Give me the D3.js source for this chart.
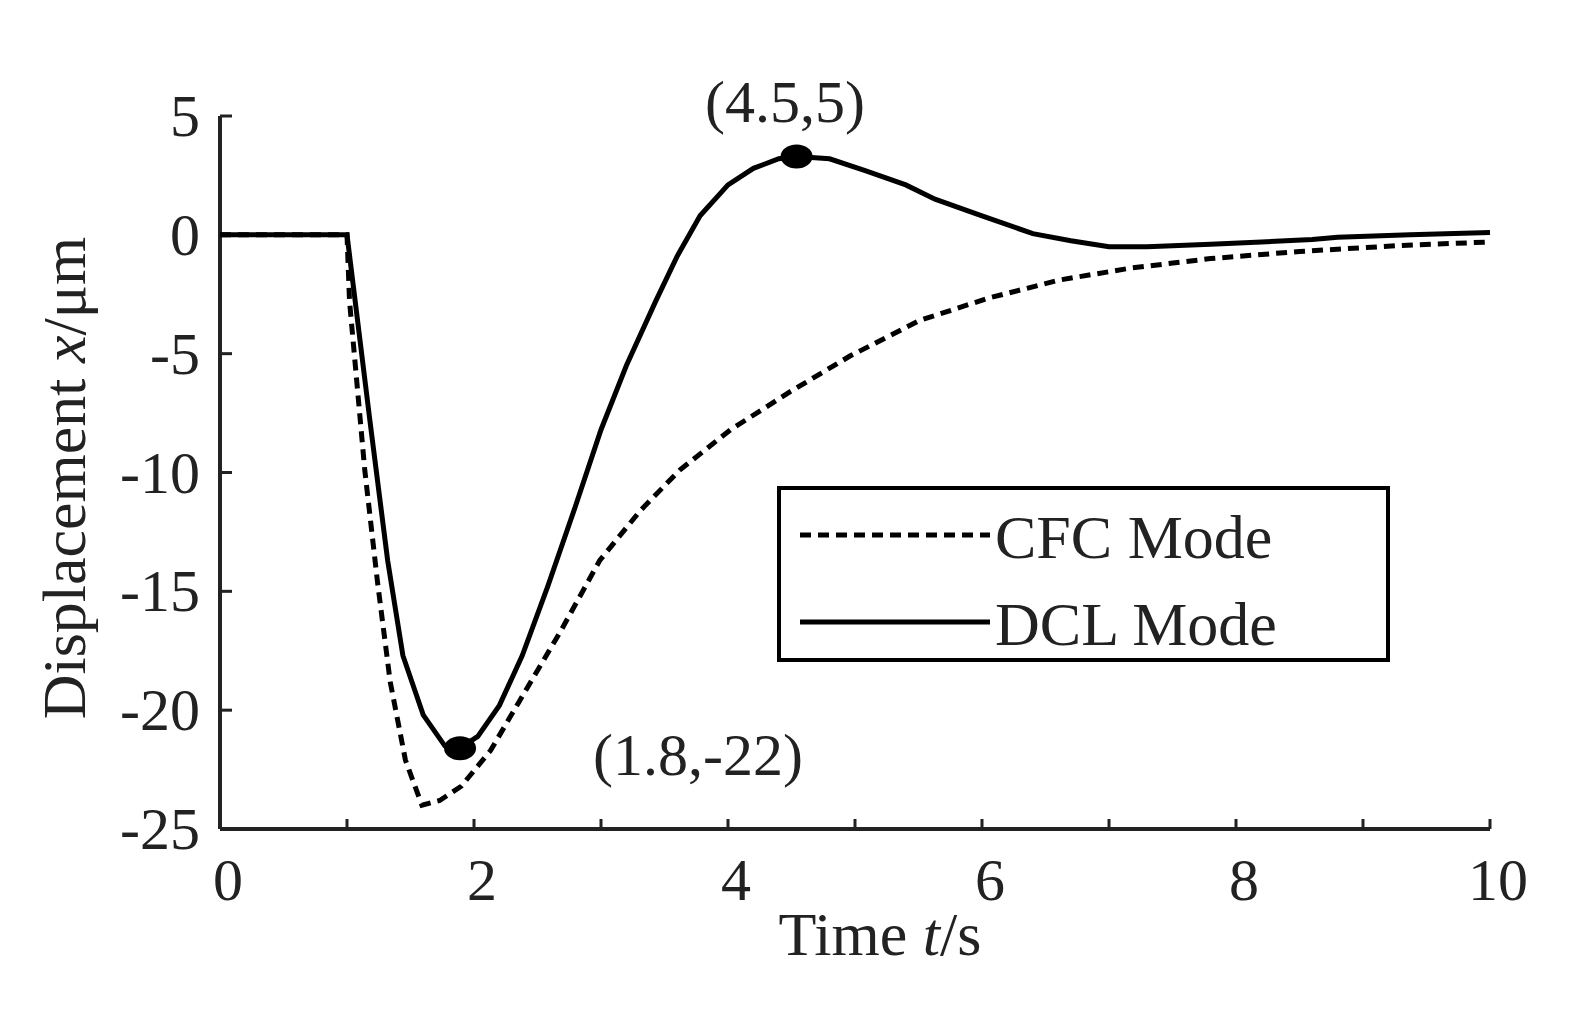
<!DOCTYPE html><html><head><script src="https://cdn.jsdelivr.net/npm/d3@7"></script>
<style>body{margin:0;background:#fff}text{font-family:"Liberation Serif",serif;fill:#222}</style></head><body>
<svg id="c" width="1576" height="1024"></svg>
<script>
const dclT=[0,1,1.18,1.32,1.44,1.6,1.77,1.89,2.03,2.2,2.38,2.58,2.8,3.0,3.2,3.43,3.6,3.78,4.0,4.2,4.4,4.54,4.8,5.08,5.4,5.63,6.0,6.4,6.7,7.0,7.3,7.8,8.2,8.6,8.8,9.37,10];
const dclV=[0,0,-7.8,-13.7,-17.7,-20.2,-21.5,-21.6,-21.1,-19.8,-17.7,-14.8,-11.4,-8.2,-5.5,-2.8,-0.9,0.8,2.1,2.8,3.2,3.3,3.2,2.7,2.1,1.5,0.8,0.05,-0.25,-0.5,-0.5,-0.4,-0.3,-0.2,-0.1,0,0.1];
const cfcT=[0,1,1.02,1.14,1.24,1.34,1.46,1.59,1.73,1.9,2.13,2.36,2.68,2.99,3.31,3.62,4.02,4.49,4.96,5.51,6.06,6.61,7.17,7.8,8.5,9.29,10];
const cfcV=[0,0,-2.8,-9.9,-14.6,-18.8,-22.1,-24,-23.8,-23.2,-21.7,-19.6,-16.7,-13.7,-11.6,-9.9,-8.2,-6.6,-5.1,-3.6,-2.65,-1.9,-1.4,-1.0,-0.7,-0.45,-0.3];
const xTicks=[0,2,4,6,8,10], yTicks=[5,0,-5,-10,-15,-20,-25];
const svg=d3.select("#c");
const x=d3.scaleLinear([0,10],[220,1490]), y=d3.scaleLinear([-25,5],[829,116]);
const g=svg.append("g");
g.append("line").attr("x1",220).attr("x2",1490).attr("y1",829).attr("y2",829).attr("stroke","#222").attr("stroke-width",4);
g.append("line").attr("x1",220).attr("x2",220).attr("y1",116).attr("y2",829).attr("stroke","#222").attr("stroke-width",4);
d3.range(0,11).forEach(t=>g.append("line").attr("x1",x(t)).attr("x2",x(t)).attr("y1",829).attr("y2",819).attr("stroke","#222").attr("stroke-width",3));
yTicks.forEach(v=>g.append("line").attr("x1",220).attr("x2",232).attr("y1",y(v)).attr("y2",y(v)).attr("stroke","#222").attr("stroke-width",3));
xTicks.forEach(t=>g.append("text").attr("x",x(t)+8).attr("y",900).attr("text-anchor","middle").attr("font-size",60).text(t));
yTicks.forEach(v=>g.append("text").attr("x",200).attr("y",y(v)+20).attr("text-anchor","end").attr("font-size",60).text(v));
g.append("text").attr("x",880).attr("y",955).attr("text-anchor","middle").attr("font-size",62).html('Time <tspan font-style="italic">t</tspan>/s');
g.append("text").attr("transform","translate(85,478) rotate(-90)").attr("text-anchor","middle").attr("font-size",62).html('Displacement <tspan font-style="italic">x</tspan>/μm');
const line=d3.line().x(d=>x(d[0])).y(d=>y(d[1]));
svg.append("path").datum(cfcT.map((t,i)=>[t,cfcV[i]])).attr("d",line).attr("fill","none").attr("stroke","#000").attr("stroke-width",5).attr("stroke-dasharray","11,7");
svg.append("path").datum(dclT.map((t,i)=>[t,dclV[i]])).attr("d",line).attr("fill","none").attr("stroke","#000").attr("stroke-width",5);
[[4.54,3.3],[1.89,-21.6]].forEach(p=>svg.append("ellipse").attr("cx",x(p[0])).attr("cy",y(p[1])).attr("rx",16).attr("ry",12).attr("fill","#000"));
svg.append("text").attr("x",785).attr("y",122).attr("text-anchor","middle").attr("font-size",60).text("(4.5,5)");
svg.append("text").attr("x",698).attr("y",775).attr("text-anchor","middle").attr("font-size",60).text("(1.8,-22)");
const lg=svg.append("g");
lg.append("rect").attr("x",779).attr("y",488).attr("width",609).attr("height",172).attr("fill","#fff").attr("stroke","#000").attr("stroke-width",4);
lg.append("line").attr("x1",800).attr("x2",990).attr("y1",535).attr("y2",535).attr("stroke","#000").attr("stroke-width",5).attr("stroke-dasharray","11,7");
lg.append("line").attr("x1",800).attr("x2",990).attr("y1",622).attr("y2",622).attr("stroke","#000").attr("stroke-width",5);
lg.append("text").attr("x",995).attr("y",558).attr("font-size",62).text("CFC Mode");
lg.append("text").attr("x",995).attr("y",645).attr("font-size",62).text("DCL Mode");
</script></body></html>
